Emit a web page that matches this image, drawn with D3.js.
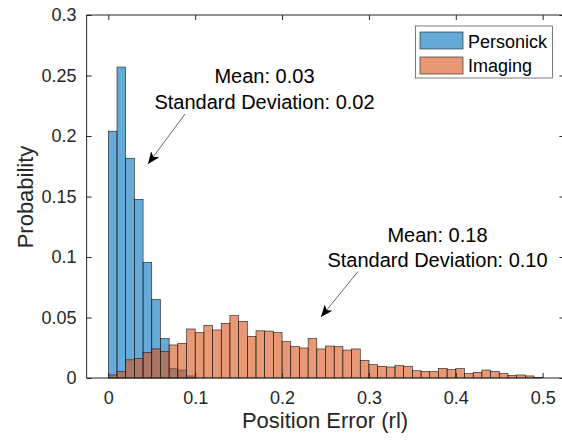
<!DOCTYPE html>
<html>
<head>
<meta charset="utf-8">
<script src="https://cdn.jsdelivr.net/npm/d3@7"></script>
<style>
  html, body { margin: 0; padding: 0; background: #fff; }
  svg { display: block; font-family: "Liberation Sans", Arial, Helvetica, sans-serif; }
  .axis text { fill: #262626; font-size: 18px; }
  .axis path, .axis line { stroke: #262626; }
</style>
</head>
<body>
<div id="chart"></div>
<script>
// histogram bins, 0.01 wide starting at 0
var binWidth = 0.01;
var personick = [0.204, 0.257, 0.1816, 0.1477, 0.0956, 0.065, 0.0326, 0.008, 0.0066, 0.0017];
var imaging = [0.0025, 0.0052, 0.015, 0.016, 0.021, 0.024, 0.022, 0.0273, 0.0287, 0.0405,
               0.0375, 0.0435, 0.0397, 0.0452, 0.0515, 0.0468, 0.0344, 0.039, 0.0388, 0.0375,
               0.030, 0.0259, 0.0248, 0.0325, 0.024, 0.0264, 0.026, 0.0231, 0.024, 0.0146,
               0.011, 0.0097, 0.0091, 0.0102, 0.0097, 0.006, 0.0055, 0.0052, 0.008, 0.0069,
               0.0077, 0.0036, 0.0047, 0.0066, 0.0055, 0.0036, 0.0022, 0.0025, 0.0017, 0.0006];
var xTicks = [0, 0.1, 0.2, 0.3, 0.4, 0.5];
var yTicks = [0, 0.05, 0.1, 0.15, 0.2, 0.25, 0.3];
var seriesNames = ["Personick", "Imaging"];
var seriesColors = ["#0072bd", "#d95319"];
var notes = [
  { lines: ["Mean: 0.03", "Standard Deviation: 0.02"] },
  { lines: ["Mean: 0.18", "Standard Deviation: 0.10"] }
];

var W = 562, H = 442;
var margin = {top: 15, left: 86.6},
    width = 477.8,   // plot box runs past the right edge of the window
    height = 363;

var x = d3.scaleLinear().domain([-0.025, 0.525]).range([0, width]);
var y = d3.scaleLinear().domain([0, 0.3]).range([height, 0]);

var svg = d3.select("#chart").append("svg")
    .attr("width", W)
    .attr("height", H);

var defs = svg.append("defs");
defs.append("marker")
    .attr("id", "head")
    .attr("viewBox", "0 0 12 10")
    .attr("refX", 12).attr("refY", 5)
    .attr("markerWidth", 12).attr("markerHeight", 10)
    .attr("markerUnits", "userSpaceOnUse")
    .attr("orient", "auto")
  .append("path")
    .attr("d", "M0,0 L12,5 L0,10 L3,5 Z")
    .attr("fill", "#000");

var g = svg.append("g")
    .attr("transform", "translate(" + margin.left + "," + margin.top + ")");

// bars, Personick first then Imaging on top (MATLAB FaceAlpha 0.6)
[personick, imaging].forEach(function(vals, s) {
  g.append("g").selectAll("rect")
      .data(vals)
    .enter().append("rect")
      .attr("x", function(d, i) { return x(i * binWidth); })
      .attr("width", function(d, i) { return x((i + 1) * binWidth) - x(i * binWidth); })
      .attr("y", function(d) { return y(d); })
      .attr("height", function(d) { return y(0) - y(d); })
      .attr("fill", seriesColors[s])
      .attr("fill-opacity", 0.6)
      .attr("stroke", "#1a1a1a")
      .attr("stroke-width", 0.6);
});

// axes, ticks inward
g.append("g")
    .attr("class", "axis")
    .attr("transform", "translate(0," + height + ")")
    .call(d3.axisBottom(x).tickValues(xTicks).tickSize(-5).tickPadding(13).tickFormat(d3.format("")))
    .call(function(a) { a.select(".domain").attr("d", "M0,0H" + width); });

g.append("g")
    .attr("class", "axis")
    .call(d3.axisTop(x).tickValues(xTicks).tickSize(-5).tickFormat(""))
    .call(function(a) { a.select(".domain").attr("d", "M0,0H" + width); });

g.append("g")
    .attr("class", "axis")
    .call(d3.axisLeft(y).tickValues(yTicks).tickSize(-5).tickPadding(10).tickFormat(d3.format("")))
    .call(function(a) { a.select(".domain").attr("d", "M0,0V" + height); });

g.append("g")
    .attr("class", "axis")
    .attr("transform", "translate(" + width + ",0)")
    .call(d3.axisRight(y).tickValues(yTicks).tickSize(-5).tickFormat(""))
    .call(function(a) { a.select(".domain").attr("d", "M0,0V" + height); });

g.selectAll(".axis text").attr("font-family", null).attr("font-size", null);

// axis labels
svg.append("text")
    .attr("x", 325).attr("y", 428)
    .attr("text-anchor", "middle")
    .attr("font-size", 22).attr("fill", "#262626")
    .text("Position Error (rl)");

svg.append("text")
    .attr("transform", "translate(33,197) rotate(-90)")
    .attr("text-anchor", "middle")
    .attr("font-size", 22).attr("fill", "#262626")
    .text("Probability");

// legend
var leg = svg.append("g");
leg.append("rect")
    .attr("x", 415.5).attr("y", 26)
    .attr("width", 137).attr("height", 52)
    .attr("fill", "#fff").attr("stroke", "#262626").attr("stroke-width", 0.6);
seriesNames.forEach(function(name, i) {
  leg.append("rect")
      .attr("x", 420).attr("y", 32 + i * 25)
      .attr("width", 43).attr("height", 17)
      .attr("fill", seriesColors[i]).attr("fill-opacity", 0.6)
      .attr("stroke", "#1a1a1a").attr("stroke-width", 0.6);
  leg.append("text")
      .attr("x", 468).attr("y", 48 + i * 24)
      .attr("font-size", 18).attr("fill", "#000")
      .text(name);
});

// text annotations with arrows
var notePos = [
  {cx: 264.5, y0: 83, arrow: [185, 114, 148, 164]},
  {cx: 437.5, y0: 241.5, arrow: [358, 271.5, 321, 317]}
];
notes.forEach(function(n, k) {
  var p = notePos[k];
  n.lines.forEach(function(line, j) {
    svg.append("text")
        .attr("x", p.cx).attr("y", p.y0 + j * 25.5)
        .attr("text-anchor", "middle")
        .attr("font-size", 20).attr("fill", "#000")
        .text(line);
  });
  svg.append("line")
      .attr("x1", p.arrow[0]).attr("y1", p.arrow[1])
      .attr("x2", p.arrow[2]).attr("y2", p.arrow[3])
      .attr("stroke", "#000").attr("stroke-width", 0.6)
      .attr("marker-end", "url(#head)");
});
</script>
</body>
</html>
